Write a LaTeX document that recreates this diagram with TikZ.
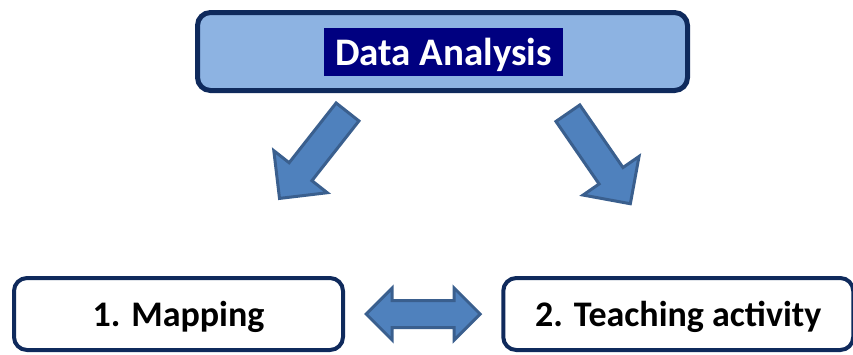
\documentclass[tikz,border=0pt]{standalone}
\usepackage{fontspec}
\setmainfont{Carlito}
\usepackage{tikz}
\usetikzlibrary{shapes, shapes.arrows, positioning}
\definecolor{boxblue}{HTML}{8DB3E2}
\definecolor{boxline}{HTML}{0F2A5C}
\definecolor{hlnavy}{HTML}{000080}
\definecolor{arrfill}{HTML}{4F81BD}
\definecolor{arrline}{HTML}{3A5F8E}

\begin{document}
\begin{tikzpicture}[x=1pt, y=-1pt, font=\bfseries]
\tikzstyle{block}=[draw=boxline, rectangle, rounded corners=13pt, line width=4pt, fill=white, text=black, minimum height=72pt, text depth=0pt, font=\bfseries\fontsize{36}{36}\selectfont]
\tikzstyle{bigarrow}=[draw=arrline, fill=arrfill, line width=3pt, single arrow, single arrow head extend=19.5pt, minimum height=110pt, inner xsep=0pt, inner ysep=13pt]
\tikzstyle{linkarrow}=[draw=arrline, fill=arrfill, line width=3pt, double arrow, double arrow head extend=12.5pt, minimum height=114pt, inner xsep=0pt, inner ysep=12pt]

\useasboundingbox (0,0) rectangle (853,354);

\node[block, fill=boxblue, line width=5pt, minimum width=490pt, minimum height=78pt]   (top) at (442.5,51.5) {};
\node[fill=hlnavy, text=white, minimum width=239pt, minimum height=48pt, inner sep=0pt, text depth=0pt, font=\bfseries\fontsize{39}{39}\selectfont]   (title) at (443.5,52) {Data Analysis};

\node[bigarrow, rotate=-128.2]   (leftarr) at (318,149.5) {};
\node[bigarrow, rotate=-55.4]    (rightarr) at (595,152.5) {};

\node[block, minimum width=329pt]   (map) at (178.5,314) {1. Mapping};
\node[linkarrow]                    (link)[right=19pt of map] {};
\node[block, minimum width=350pt]   (teach)[right=19pt of link] {2. Teaching activity};

\end{tikzpicture}
\end{document}
